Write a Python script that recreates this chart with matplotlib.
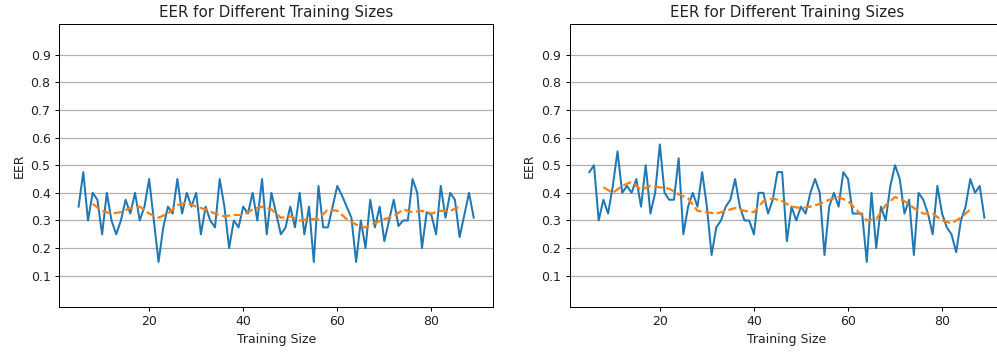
import numpy as np
import matplotlib
matplotlib.use("Agg")
import matplotlib.pyplot as plt

sizes = list(range(5, 90))

eer_left = [0.35, 0.475, 0.30, 0.40, 0.375, 0.25, 0.40, 0.30, 0.25, 0.30,
            0.375, 0.325, 0.40, 0.30, 0.35, 0.45, 0.30, 0.15, 0.275, 0.35,
            0.325, 0.45, 0.325, 0.40, 0.35, 0.40, 0.25, 0.35, 0.30, 0.275,
            0.45, 0.35, 0.20, 0.30, 0.275, 0.35, 0.325, 0.40, 0.30, 0.45,
            0.25, 0.40, 0.325, 0.25, 0.275, 0.35, 0.275, 0.40, 0.25, 0.35,
            0.15, 0.425, 0.275, 0.275, 0.35, 0.425, 0.39, 0.35, 0.31, 0.15,
            0.30, 0.20, 0.375, 0.275, 0.35, 0.225, 0.30, 0.375, 0.28, 0.30,
            0.30, 0.45, 0.40, 0.20, 0.33, 0.32, 0.25, 0.425, 0.31, 0.40,
            0.375, 0.24, 0.32, 0.40, 0.31]

eer_right = [0.475, 0.50, 0.30, 0.375, 0.325, 0.425, 0.55, 0.40, 0.425, 0.40,
             0.45, 0.35, 0.50, 0.325, 0.40, 0.575, 0.40, 0.375, 0.375, 0.525,
             0.25, 0.35, 0.40, 0.35, 0.475, 0.35, 0.175, 0.275, 0.30, 0.35,
             0.375, 0.45, 0.35, 0.30, 0.30, 0.25, 0.40, 0.40, 0.325, 0.375,
             0.475, 0.475, 0.225, 0.35, 0.30, 0.35, 0.325, 0.40, 0.45, 0.40,
             0.175, 0.35, 0.40, 0.35, 0.475, 0.45, 0.325, 0.325, 0.325, 0.15,
             0.40, 0.20, 0.35, 0.30, 0.425, 0.50, 0.45, 0.325, 0.375, 0.175,
             0.40, 0.375, 0.325, 0.25, 0.425, 0.325, 0.275, 0.25, 0.185, 0.30,
             0.35, 0.45, 0.40, 0.425, 0.31]

# smoothed trend
trend_sizes = list(range(8, 87, 2))
trend_left = [0.36, 0.335, 0.325, 0.33, 0.345, 0.35, 0.325, 0.31, 0.325, 0.355,
              0.365, 0.35, 0.34, 0.325, 0.315, 0.32, 0.32, 0.34, 0.35, 0.34,
              0.31, 0.315, 0.30, 0.305, 0.305, 0.34, 0.335, 0.305, 0.285, 0.275,
              0.29, 0.305, 0.315, 0.34, 0.33, 0.335, 0.325, 0.335, 0.335, 0.35]
trend_right = [0.42, 0.40, 0.425, 0.44, 0.41, 0.425, 0.42, 0.415, 0.395, 0.38,
               0.335, 0.33, 0.325, 0.335, 0.345, 0.335, 0.33, 0.37, 0.38, 0.37,
               0.35, 0.345, 0.35, 0.36, 0.375, 0.385, 0.37, 0.335, 0.30, 0.305,
               0.355, 0.385, 0.37, 0.345, 0.325, 0.325, 0.30, 0.29, 0.31, 0.34]

yticks = [0.1, 0.2, 0.3, 0.4, 0.5, 0.6, 0.7, 0.8, 0.9]

W, H = 997, 354
DPI = 90
fig = plt.figure(figsize=(W / DPI, H / DPI), dpi=DPI)
ax1 = fig.add_axes([59.3 / W, 47.3 / H, 433.7 / W, 282.7 / H])
ax2 = fig.add_axes([570 / W, 47.3 / H, 433.7 / W, 282.7 / H])

for ax, eer, trend in [(ax1, eer_left, trend_left), (ax2, eer_right, trend_right)]:
    ax.plot(sizes, eer, color='#1f77b4', lw=1.6)
    ax.plot(trend_sizes, trend, color='#ff7f0e', lw=1.8, ls='--')
    ax.set_ylim(-0.012, 1.011)
    ax.set_xlim(0.9, 93.1)
    ax.set_yticks(yticks)
    ax.set_xticks([20, 40, 60, 80])
    ax.grid(axis='y', color='#b0b0b0', lw=1)
    ax.set_axisbelow(True)
    ax.set_title("EER for Different Training Sizes", fontsize=12, color='#222222')
    ax.set_xlabel("Training Size", fontsize=10, color='#222222')
    ax.set_ylabel("EER", fontsize=10, color='#222222')
    ax.tick_params(labelsize=10, labelcolor='#222222')

fig.savefig("out.png", dpi=DPI)
